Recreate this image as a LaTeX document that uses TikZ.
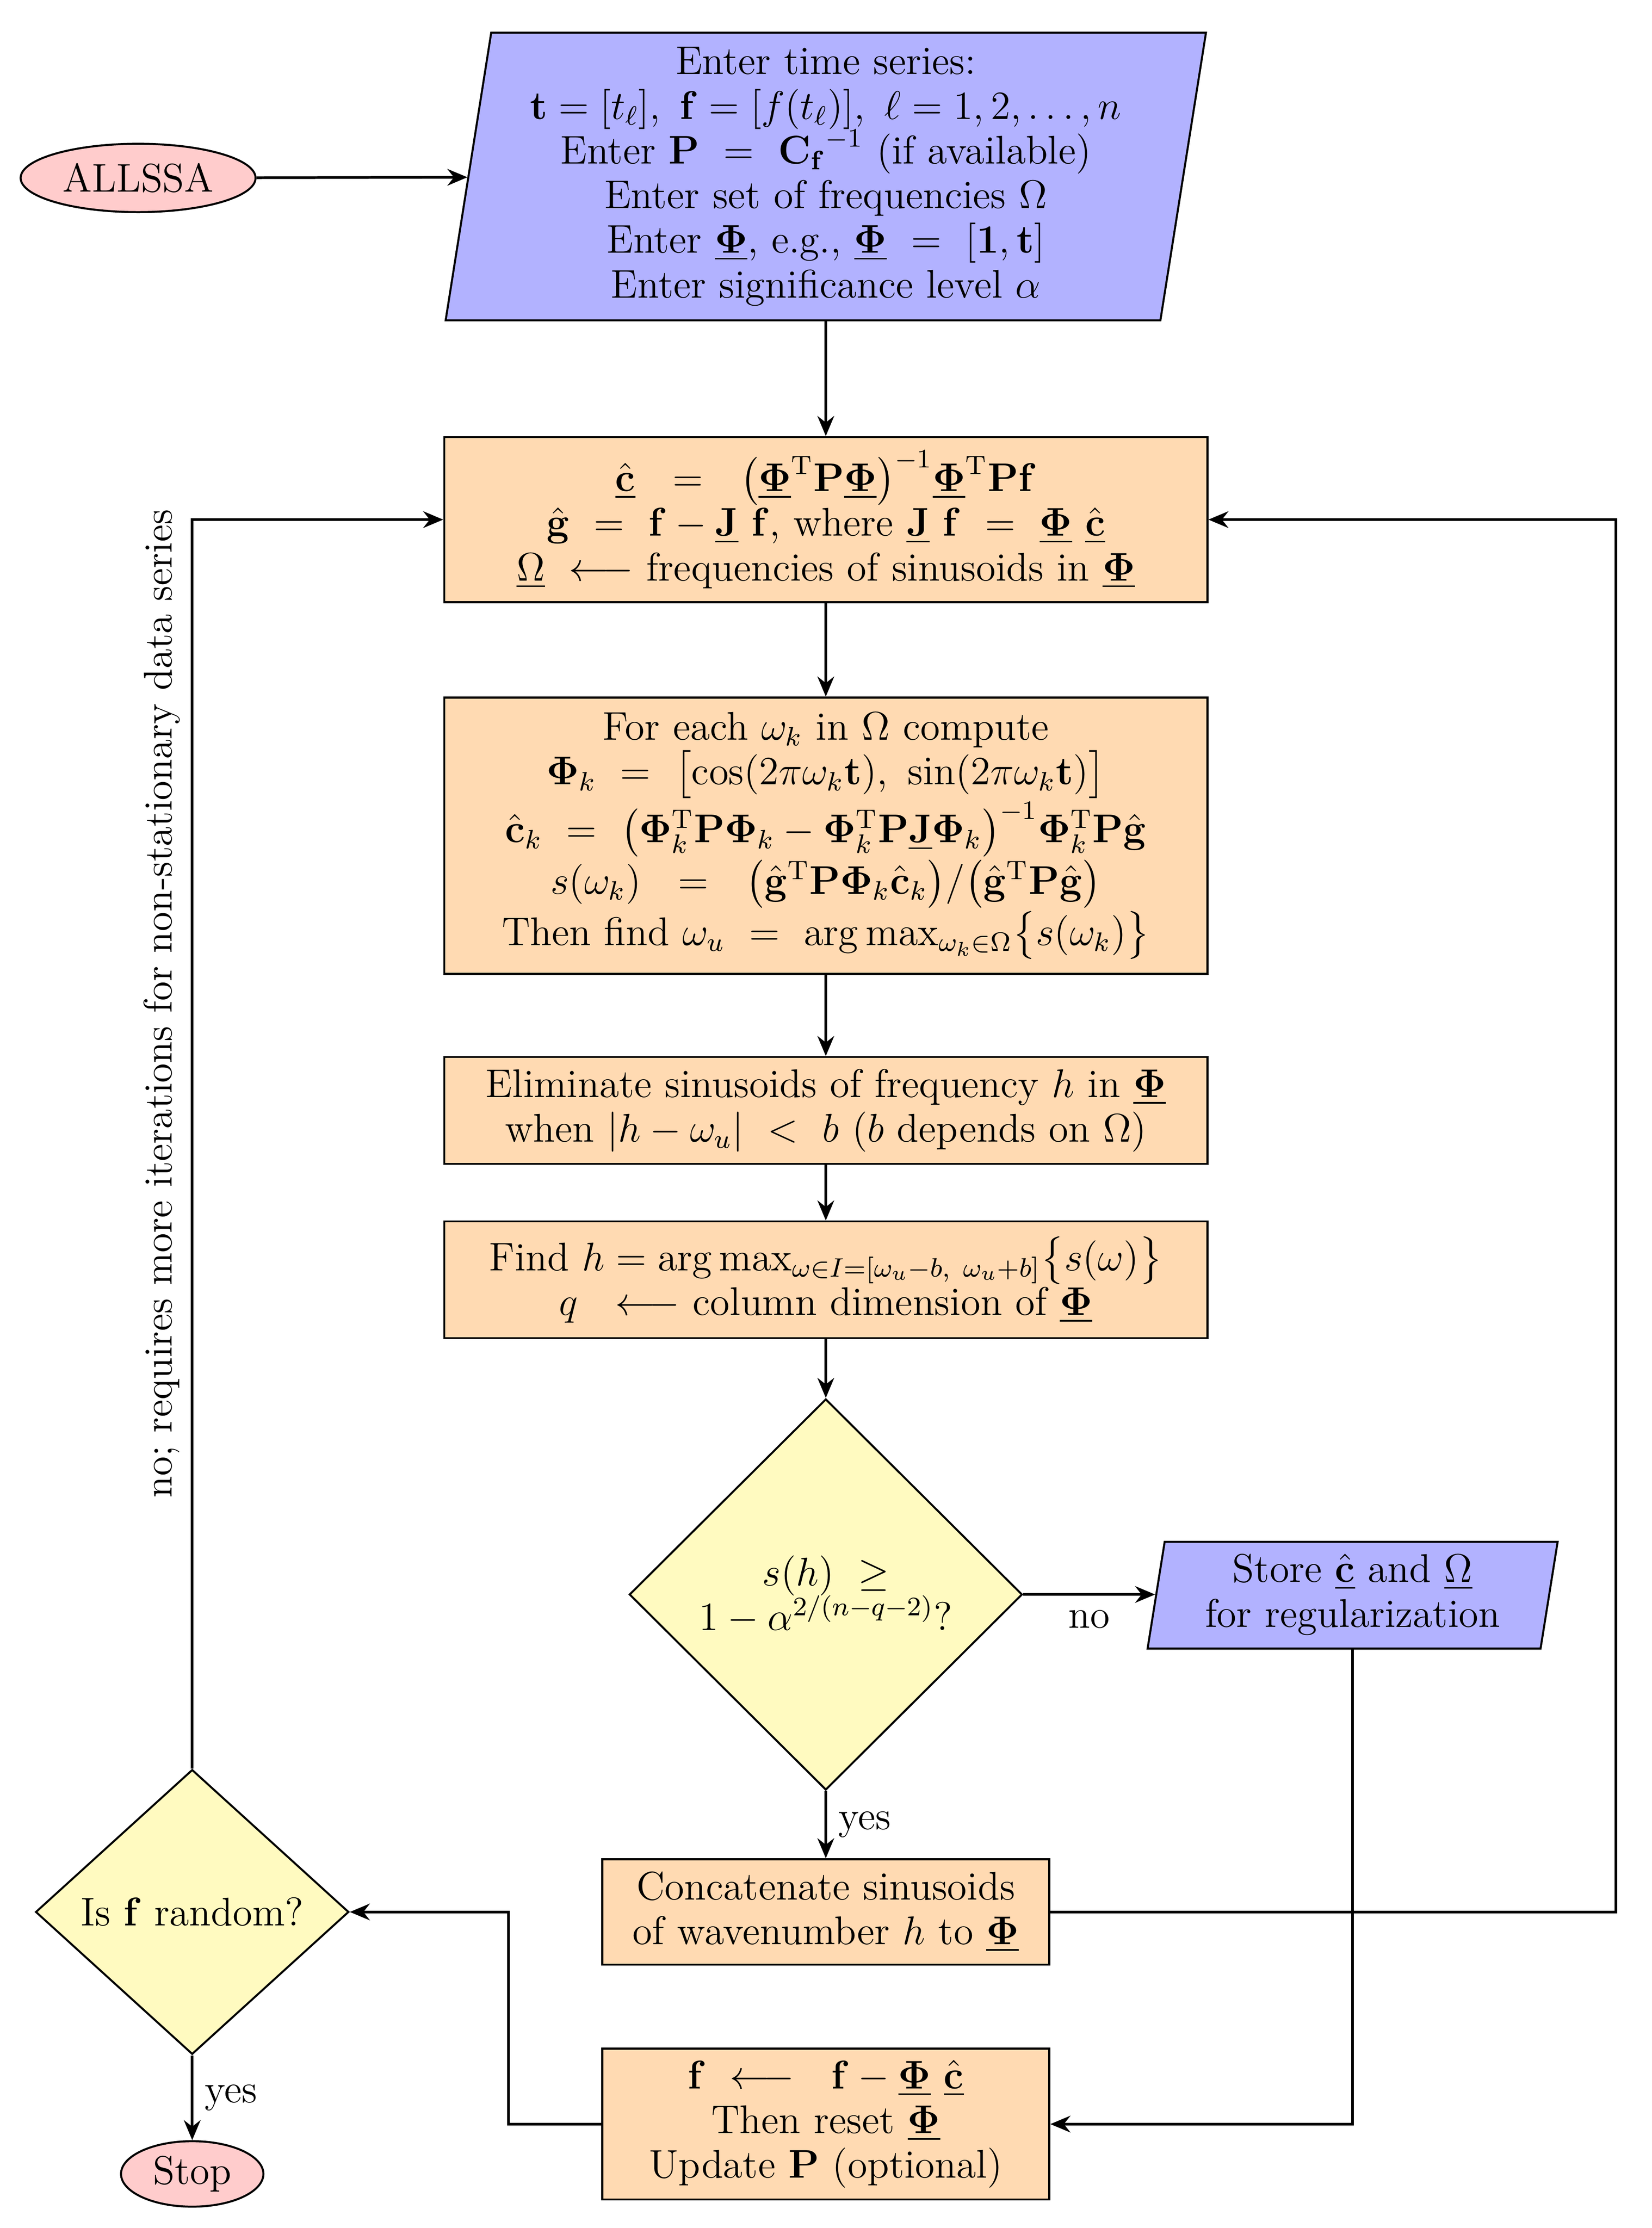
\documentclass[tikz,border=0pt]{standalone}
\usepackage{amsmath,amssymb,bm}
\usetikzlibrary{shapes.geometric,arrows.meta}
\newcommand{\uPhi}{\underline{\bm{\Phi}}}
\newcommand{\uc}{\underline{\hat{\mathbf{c}}}}
\newcommand{\uOm}{\underline{\Omega}}
\newcommand{\uJ}{\underline{\mathbf{J}}}
\definecolor{pinkf}{RGB}{255,204,204}
\definecolor{bluef}{RGB}{178,178,255}
\definecolor{orf}{RGB}{255,218,178}
\definecolor{yelf}{RGB}{255,250,192}
\begin{document}
\begin{tikzpicture}[x=0.015cm,y=-0.015cm,
  every node/.style={font=\fontsize{12}{13.4}\selectfont, align=center},
  box/.style={draw, fill=orf, minimum width=8.04cm, inner sep=0pt},
  ell/.style={draw, fill=pinkf, ellipse, inner sep=0pt},
  dia/.style={draw, fill=yelf, diamond, inner sep=0pt},
  arr/.style={-{Stealth[length=6pt,width=5pt]}, line width=0.8pt},
  line width=0.6pt]
\useasboundingbox (0,0) rectangle (1160,1565);
% input parallelogram
\draw[fill=bluef] (345,23) -- (847,23) -- (815,225) -- (313,225) -- cycle;
\node[minimum width=7.53cm, minimum height=3.03cm, inner sep=0pt] (in) at (580,124) {Enter time series:\\
$\mathbf{t}=[t_\ell],\ \mathbf{f}=[f(t_\ell)],\ \ell=1,2,\dots,n$\\
Enter $\mathbf{P}\ =\ {\mathbf{C_f}}^{-1}$ (if available)\\
Enter set of frequencies $\Omega$\\
Enter $\uPhi$, e.g., $\uPhi\ =\ [\mathbf{1},\mathbf{t}]$\\
Enter significance level $\alpha$};
\node[ell, minimum width=2.475cm, minimum height=0.72cm] (all) at (97,125) {ALLSSA};
\node[box, minimum height=1.74cm] (b1) at (580,365) {$\uc\ \ =\ \ \bigl(\uPhi^{\mathrm{T}}\mathbf{P}\uPhi\bigr)^{-1}\uPhi^{\mathrm{T}}\mathbf{P}\mathbf{f}$\\
$\hat{\mathbf{g}}\ =\ \mathbf{f}-\uJ\ \mathbf{f}$, where $\uJ\ \mathbf{f}\ =\ \uPhi\ \uc$\\
$\uOm\ \longleftarrow$ frequencies of sinusoids in $\uPhi$};
\node[box, minimum height=2.91cm] (b2) at (580,587) {For each $\omega_k$ in $\Omega$ compute\\
$\bm{\Phi}_k\ =\ \bigl[\cos(2\pi\omega_k\mathbf{t}),\ \sin(2\pi\omega_k\mathbf{t})\bigr]$\\
$\hat{\mathbf{c}}_k\ =\ \bigl(\bm{\Phi}_k^{\mathrm{T}}\mathbf{P}\bm{\Phi}_k-\bm{\Phi}_k^{\mathrm{T}}\mathbf{P}\uJ\bm{\Phi}_k\bigr)^{-1}\bm{\Phi}_k^{\mathrm{T}}\mathbf{P}\hat{\mathbf{g}}$\\
$s(\omega_k)\ \ =\ \ \bigl(\hat{\mathbf{g}}^{\mathrm{T}}\mathbf{P}\bm{\Phi}_k\hat{\mathbf{c}}_k\bigr)/\bigl(\hat{\mathbf{g}}^{\mathrm{T}}\mathbf{P}\hat{\mathbf{g}}\bigr)$\\
Then find $\omega_u\ =\ \arg\max_{\omega_k\in\Omega}\bigl\{s(\omega_k)\bigr\}$};
\node[box, minimum height=1.125cm] (b3) at (580,780) {Eliminate sinusoids of frequency $h$ in $\uPhi$\\
when $|h-\omega_u|\ <\ b$ ($b$ depends on $\Omega$)};
\node[box, minimum height=1.23cm] (b4) at (580,899) {Find $h=\arg\max_{\omega\in I=[\omega_u-b,\ \omega_u+b]}\bigl\{s(\omega)\bigr\}$\\
$q\ \ \longleftarrow$ column dimension of $\uPhi$};
\node[dia, minimum width=4.14cm, minimum height=4.12cm] (d1) at (580,1120) {$s(h)\ \geq$\\ $1-\alpha^{2/(n-q-2)}$?};
% store parallelogram
\draw[fill=bluef] (818,1083) -- (1094,1083) -- (1082,1158) -- (806,1158) -- cycle;
\node[minimum width=4.14cm, minimum height=1.125cm, inner sep=0pt] (st) at (950,1120) {Store $\uc$ and $\uOm$\\ for regularization};
\node[box, minimum width=4.71cm, minimum height=1.11cm] (cc) at (580,1343) {Concatenate sinusoids\\ of wavenumber $h$ to $\uPhi$};
\node[box, minimum width=4.71cm, minimum height=1.59cm] (up) at (580,1492) {$\mathbf{f}\ \longleftarrow\ \ \mathbf{f}-\uPhi\ \uc$\\ Then reset $\uPhi$\\ Update $\mathbf{P}$ (optional)};
\node[dia, minimum width=3.3cm, minimum height=3.0cm] (d2) at (135,1343) {Is $\mathbf{f}$ random?};
\node[ell, minimum width=1.5cm, minimum height=0.69cm] (stop) at (135,1527) {Stop};
% edges
\draw[arr] (all) -- (in);
\draw[arr] (in) -- (b1);
\draw[arr] (b1) -- (b2);
\draw[arr] (b2) -- (b3);
\draw[arr] (b3) -- (b4);
\draw[arr] (b4) -- (d1);
\draw[arr] (d1) -- node[below, pos=0.5, yshift=-1pt] {no} (st);
\draw[arr] (d1) -- node[right] {yes} (cc);
\draw[arr] (cc.east) -- (1135,1343) -- (1135,365) -- (b1.east);
\draw[arr] (st.south) -- (950,1492) -- (up.east);
\draw[arr] (up.west) -- (357,1492) -- (357,1343) -- (d2.east);
\draw[arr] (d2) -- node[right] {yes} (stop);
\draw[arr] (d2.north) -- (135,365) -- (b1.west);
\node[rotate=90, anchor=south] at (135,705) {no; requires more iterations for non-stationary data series};
\end{tikzpicture}
\end{document}
